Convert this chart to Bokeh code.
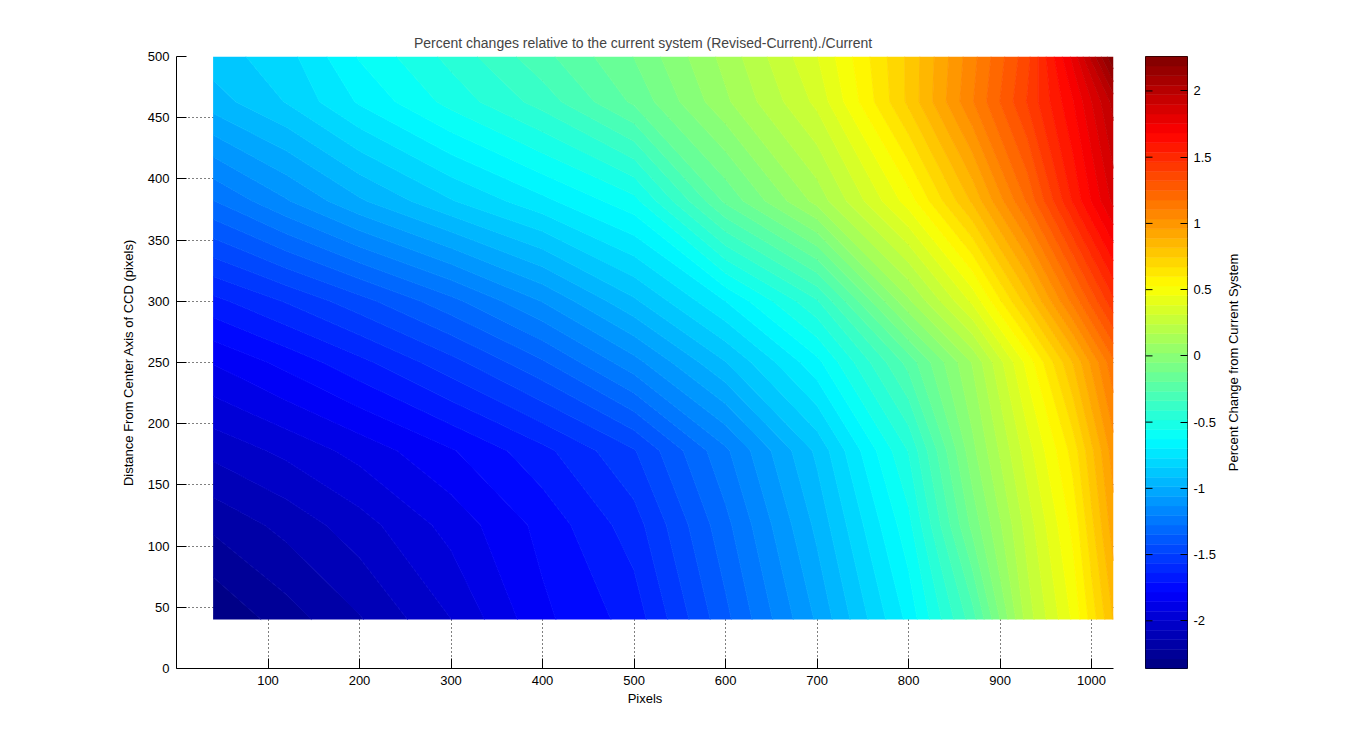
import numpy as np
from bokeh.plotting import figure
from bokeh.models import Range1d, FixedTicker, LinearAxis, CustomJSTickFormatter
from bokeh.layouts import row
from bokeh.embed import file_html
from bokeh.resources import INLINE

# ---- data ----
x_pix = [40, 120, 200, 300, 400, 500, 600, 700, 800, 870, 930, 980, 1024]
y_pix = [40, 117, 178, 250, 300, 382, 463, 500]

z_y040 = [-2.36, -2.25, -2.15, -2.00, -1.80, -1.68, -1.37, -1.05, -0.68, -0.30, 0.20, 0.47, 0.82]
z_y117 = [-2.20, -2.12, -2.03, -1.90, -1.76, -1.60, -1.30, -0.97, -0.58, -0.10, 0.27, 0.55, 0.93]
z_y178 = [-2.05, -1.98, -1.90, -1.79, -1.66, -1.50, -1.22, -0.90, -0.48, 0.00, 0.35, 0.63, 1.00]
z_y250 = [-1.85, -1.76, -1.66, -1.52, -1.36, -1.16, -0.92, -0.65, -0.24, 0.10, 0.48, 0.82, 1.16]
z_y300 = [-1.66, -1.56, -1.45, -1.30, -1.13, -0.93, -0.70, -0.42, 0.08, 0.40, 0.78, 1.13, 1.45]
z_y382 = [-1.28, -1.14, -1.00, -0.85, -0.72, -0.58, -0.18, 0.12, 0.49, 0.83, 1.19, 1.55, 1.85]
z_y463 = [-0.95, -0.84, -0.69, -0.53, -0.38, -0.18, 0.08, 0.33, 0.76, 1.10, 1.40, 1.68, 2.00]
z_y500 = [-0.88, -0.80, -0.62, -0.46, -0.29, -0.12, 0.12, 0.38, 0.76, 1.08, 1.37, 1.78, 2.26]

x_ticks = [100, 200, 300, 400, 500, 600, 700, 800, 900, 1000]
y_ticks = [0, 50, 100, 150, 200, 250, 300, 350, 400, 450, 500]
cb_ticks = [-2, -1.5, -1, -0.5, 0, 0.5, 1, 1.5, 2]

title_text = "Percent changes relative to the current system  (Revised-Current)./Current"
x_label = "Pixels"
y_label = "Distance From Center Axis of CCD (pixels)"
cb_label = "Percent Change from Current System"

# ---- build ----
Z = np.array([z_y040, z_y117, z_y178, z_y250, z_y300, z_y382, z_y463, z_y500])
zmin, zmax = float(Z.min()), float(Z.max())
N = 64


def jet(n):
    cols = []
    for i in range(n):
        t = (i + 0.5) / n
        r = min(max(1.5 - abs(4 * t - 3), 0), 1)
        g = min(max(1.5 - abs(4 * t - 2), 0), 1)
        b = min(max(1.5 - abs(4 * t - 1), 0), 1)
        cols.append("#%02x%02x%02x" % (round(r * 255), round(g * 255), round(b * 255)))
    return cols


palette = jet(N)
levels = np.linspace(zmin, zmax, N + 1)
levels_c = levels.copy()
levels_c[0] -= 1e-6
levels_c[-1] += 1e-6
line_cols = [palette[min(i, N - 1)] for i in range(N + 1)]

FONT = "Liberation Sans"
FS = "13px"

p = figure(width=1128, height=742, x_range=Range1d(0, 1024), y_range=Range1d(0, 500),
           output_backend="svg", toolbar_location=None,
           min_border_left=176, min_border_right=15, min_border_top=56, min_border_bottom=74,
           title=title_text)
p.contour(x=x_pix, y=y_pix, z=Z, levels=list(levels_c), fill_color=palette,
          line_color=line_cols, line_width=1)

p.title.align = "center"
p.title.text_font = FONT
p.title.text_font_size = "14px"
p.title.text_font_style = "normal"
p.title.standoff = 12
p.outline_line_color = None
p.background_fill_color = "white"
p.border_fill_color = "white"

p.xaxis.ticker = FixedTicker(ticks=x_ticks)
p.yaxis.ticker = FixedTicker(ticks=y_ticks)
for ax in (p.xaxis[0], p.yaxis[0]):
    ax.major_tick_in = 10
    ax.major_tick_out = 0
    ax.minor_tick_line_color = None
    ax.axis_line_color = "black"
    ax.major_tick_line_color = "black"
    ax.major_label_text_font = FONT
    ax.major_label_text_font_size = FS
    ax.major_label_text_color = "black"
    ax.axis_label_text_font = FONT
    ax.axis_label_text_font_size = FS
    ax.axis_label_text_font_style = "normal"
    ax.axis_label_text_color = "black"
p.xaxis.axis_label = x_label
p.yaxis.axis_label = y_label
p.xaxis.major_label_standoff = 7
p.yaxis.major_label_standoff = 7
p.xaxis.axis_label_standoff = 3
p.yaxis.axis_label_standoff = 9

p.xgrid.ticker = FixedTicker(ticks=x_ticks)
p.ygrid.ticker = FixedTicker(ticks=y_ticks)
p.grid.grid_line_color = "black"
p.grid.grid_line_dash = "1 3"
p.grid.grid_line_width = 1

# ---- colorbar ----
p2 = figure(width=94, height=742, x_range=Range1d(0, 1), y_range=Range1d(zmin, zmax),
            output_backend="svg", toolbar_location=None, x_axis_type=None, y_axis_type=None,
            min_border_left=17, min_border_right=35, min_border_top=56, min_border_bottom=74)
p2.quad(left=0, right=1, bottom=levels[:-1], top=levels[1:], fill_color=palette,
        line_color=palette, line_width=0.5)
p2.segment(x0=0, x1=7 / 42, y0=cb_ticks, y1=cb_ticks, line_color="black", line_width=1)
p2.grid.visible = False
p2.outline_line_color = "black"
p2.outline_line_width = 1
p2.background_fill_color = "white"

rax = LinearAxis(ticker=FixedTicker(ticks=cb_ticks),
                 formatter=CustomJSTickFormatter(code="return tick.toString()"))
rax.major_tick_in = 7
rax.major_tick_out = 0
rax.minor_tick_line_color = None
rax.axis_line_color = None
rax.major_label_standoff = 6
rax.major_label_text_font = FONT
rax.major_label_text_font_size = FS
rax.major_label_text_color = "black"
p2.add_layout(rax, "right")

# ---- colorbar label (left axis label of a narrow blank panel) ----
p3 = figure(width=40, height=742, x_range=Range1d(0, 1), y_range=Range1d(0, 1),
            output_backend="svg", toolbar_location=None, x_axis_type=None, y_axis_type=None,
            min_border_left=10, min_border_right=0, min_border_top=56, min_border_bottom=74)
p3.outline_line_color = None
p3.grid.visible = False
lab_ax = LinearAxis(ticker=FixedTicker(ticks=[]), axis_label=cb_label)
lab_ax.axis_line_color = None
lab_ax.major_tick_line_color = None
lab_ax.minor_tick_line_color = None
lab_ax.axis_label_standoff = 0
lab_ax.axis_label_text_font = FONT
lab_ax.axis_label_text_font_size = FS
lab_ax.axis_label_text_font_style = "normal"
lab_ax.axis_label_text_color = "black"
p3.add_layout(lab_ax, "left")

layout = row(p, p2, p3)
open("out.html", "w").write(file_html(layout, INLINE))
